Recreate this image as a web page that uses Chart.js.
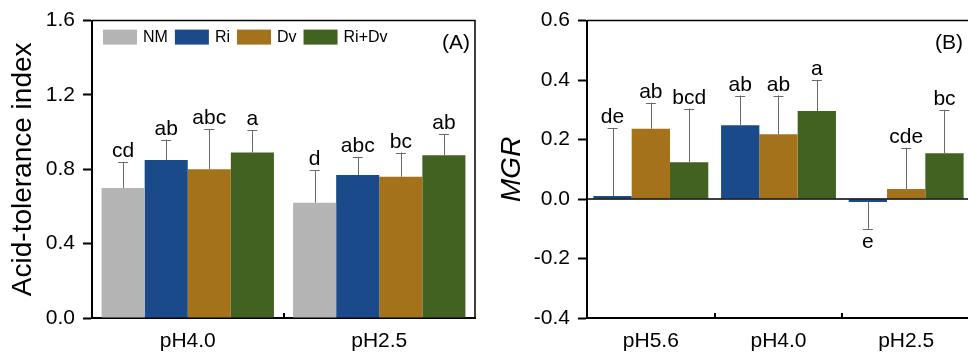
<!DOCTYPE html>
<html>
<head>
<meta charset="utf-8">
<script src="https://cdn.jsdelivr.net/npm/chart.js@4.4.0/dist/chart.umd.min.js"></script>
<style>
  html, body { margin: 0; padding: 0; background: #fff; overflow: hidden; }
  #wrap { position: relative; width: 968px; height: 353px; overflow: hidden; }
  canvas { position: absolute; top: 0; }
  #chartA { left: 0; }
  #chartB { left: 490px; }
</style>
</head>
<body>
<div id="wrap">
  <canvas id="chartA" width="490" height="353"></canvas>
  <canvas id="chartB" width="500" height="353"></canvas>
</div>
<script>
// Panel A - acid-tolerance index
const groupsA = ['pH4.0', 'pH2.5'];
const nmA = [0.70, 0.62];
const riA = [0.85, 0.77];
const dvA = [0.80, 0.76];
const ridvA = [0.89, 0.875];
const nmErrA = [0.14, 0.175];
const riErrA = [0.11, 0.095];
const dvErrA = [0.215, 0.13];
const ridvErrA = [0.12, 0.115];
const nmLetA = ['cd', 'd'];
const riLetA = ['ab', 'abc'];
const dvLetA = ['abc', 'bc'];
const ridvLetA = ['a', 'ab'];
const ticksA = [0, 0.4, 0.8, 1.2, 1.6];

// Panel B - MGR
const groupsB = ['pH5.6', 'pH4.0', 'pH2.5'];
const riB = [0.01, 0.248, -0.01];
const dvB = [0.236, 0.218, 0.034];
const ridvB = [0.124, 0.296, 0.154];
const riErrB = [0.228, 0.10, 0.09];
const dvErrB = [0.088, 0.13, 0.138];
const ridvErrB = [0.18, 0.104, 0.146];
const riLetB = ['de', 'ab', 'e'];
const dvLetB = ['ab', 'ab', 'cde'];
const ridvLetB = ['bcd', 'a', 'bc'];
const ticksB = [-0.4, -0.2, 0, 0.2, 0.4, 0.6];

const colors = {
    NM: '#b4b4b4',
    Ri: '#1b4a8b',
    Dv: '#a3721b',
    RiDv: '#426222'
};

Chart.defaults.font.family = "'Liberation Sans', Arial, sans-serif";
Chart.defaults.color = '#000';

function fmt(v) {
    if (Math.abs(v) < 1e-9) return '0.0';
    return v.toFixed(1);
}

// error bars (cap on the outer side only) + significance letters
const errorBarPlugin = {
    id: 'errorBars',
    afterDatasetsDraw(chart) {
        const ctx = chart.ctx;
        const yScale = chart.scales.y;
        ctx.save();
        chart.data.datasets.forEach((ds, i) => {
            const meta = chart.getDatasetMeta(i);
            meta.data.forEach((bar, j) => {
                const v = ds.data[j];
                const sign = v < 0 ? -1 : 1;
                const yv = yScale.getPixelForValue(v);
                const ye = yScale.getPixelForValue(v + sign * ds.errors[j]);
                ctx.strokeStyle = '#6a6a6a';
                ctx.lineWidth = 1;
                ctx.beginPath();
                ctx.moveTo(Math.round(bar.x) + 0.5, yv);
                ctx.lineTo(Math.round(bar.x) + 0.5, ye);
                ctx.moveTo(bar.x - 5, Math.round(ye) + 0.5);
                ctx.lineTo(bar.x + 5, Math.round(ye) + 0.5);
                ctx.stroke();
                ctx.fillStyle = '#000';
                ctx.font = "21px 'Liberation Sans', Arial, sans-serif";
                ctx.textAlign = 'center';
                ctx.textBaseline = 'alphabetic';
                ctx.fillText(ds.letters[j], bar.x, sign > 0 ? ye - 5 : ye + 19);
            });
        });
        ctx.restore();
    }
};

// top/right frame, zero line, inward ticks between groups, panel tag
const framePlugin = {
    id: 'frame',
    afterDraw(chart, args, opts) {
        const {ctx, chartArea: a, scales} = chart;
        ctx.save();
        ctx.strokeStyle = '#000';
        ctx.lineWidth = 1.5;
        ctx.beginPath();
        ctx.moveTo(a.left, a.top);
        ctx.lineTo(a.right, a.top);
        ctx.lineTo(a.right, a.bottom);
        ctx.stroke();

        if (opts.zeroLine) {
            const y0 = scales.y.getPixelForValue(0);
            ctx.lineWidth = 1.5;
            ctx.beginPath();
            ctx.moveTo(a.left, y0);
            ctx.lineTo(a.right, y0);
            ctx.stroke();
        }

        const x = scales.x;
        ctx.lineWidth = 2;
        ctx.beginPath();
        for (let i = 0; i < chart.data.labels.length - 1; i++) {
            const bx = Math.round((x.getPixelForValue(i) + x.getPixelForValue(i + 1)) / 2);
            ctx.moveTo(bx, a.bottom);
            ctx.lineTo(bx, a.bottom - 5);
        }
        ctx.stroke();

        ctx.fillStyle = '#000';
        ctx.font = "21px 'Liberation Sans', Arial, sans-serif";
        ctx.textAlign = 'right';
        ctx.textBaseline = 'middle';
        ctx.fillText(opts.tag, a.right - (opts.tagInset || 5), a.top + 23);
        ctx.restore();
    }
};

// legend drawn inside the plot area of panel A
const innerLegendPlugin = {
    id: 'innerLegend',
    afterDraw(chart) {
        const ctx = chart.ctx;
        const a = chart.chartArea;
        let x = a.left + 11;
        const y = a.top + 9;
        ctx.save();
        ctx.font = "16px 'Liberation Sans', Arial, sans-serif";
        ctx.textBaseline = 'middle';
        ctx.textAlign = 'left';
        chart.data.datasets.forEach(ds => {
            ctx.fillStyle = ds.backgroundColor;
            ctx.fillRect(x, y, 34, 15);
            x += 40;
            ctx.fillStyle = '#000';
            ctx.fillText(ds.label, x, y + 8);
            x += ctx.measureText(ds.label).width + 7;
        });
        ctx.restore();
    }
};

function barSet(label, data, errors, letters, color) {
    return {
        label: label,
        data: data,
        errors: errors,
        letters: letters,
        backgroundColor: color,
        borderWidth: 0,
        categoryPercentage: 0.9,
        barPercentage: 1.0
    };
}

function yAxis(min, max, ticks, title, italic, titlePad, width) {
    return {
        min: min,
        max: max,
        afterBuildTicks: s => { s.ticks = ticks.map(v => ({value: v})); },
        ticks: {
            color: '#000',
            font: {size: 21},
            padding: 8,
            callback: v => fmt(v)
        },
        grid: {drawOnChartArea: false, tickLength: 9, tickWidth: 2, color: '#000'},
        border: {color: '#000', width: 2},
        title: {
            display: true,
            text: title,
            color: '#000',
            font: {size: 28, style: italic ? 'italic' : 'normal'},
            padding: {top: titlePad, bottom: 0}
        },
        afterFit: s => { s.width = width; }
    };
}

const xAxis = {
    grid: {display: false, drawTicks: false},
    border: {color: '#000', width: 2},
    ticks: {color: '#000', font: {size: 21}, padding: 11},
    afterFit: s => { s.height = 35; }
};

new Chart(document.getElementById('chartA'), {
    type: 'bar',
    data: {
        labels: groupsA,
        datasets: [
            barSet('NM', nmA, nmErrA, nmLetA, colors.NM),
            barSet('Ri', riA, riErrA, riLetA, colors.Ri),
            barSet('Dv', dvA, dvErrA, dvLetA, colors.Dv),
            barSet('Ri+Dv', ridvA, ridvErrA, ridvLetA, colors.RiDv)
        ]
    },
    options: {
        responsive: false,
        animation: false,
        layout: {padding: {top: 20, right: 15, left: 0, bottom: 0}},
        scales: {
            x: xAxis,
            y: yAxis(0, 1.6, ticksA, 'Acid-tolerance index', false, 6, 92)
        },
        plugins: {
            legend: {display: false},
            tooltip: {enabled: false},
            frame: {tag: '(A)', zeroLine: false, tagInset: 5}
        }
    },
    plugins: [errorBarPlugin, framePlugin, innerLegendPlugin]
});

new Chart(document.getElementById('chartB'), {
    type: 'bar',
    data: {
        labels: groupsB,
        datasets: [
            barSet('Ri', riB, riErrB, riLetB, colors.Ri),
            barSet('Dv', dvB, dvErrB, dvLetB, colors.Dv),
            barSet('Ri+Dv', ridvB, ridvErrB, ridvLetB, colors.RiDv)
        ]
    },
    options: {
        responsive: false,
        animation: false,
        layout: {padding: {top: 20, right: 20, left: 0, bottom: 0}},
        scales: {
            x: xAxis,
            y: yAxis(-0.4, 0.6, ticksB, 'MGR', true, 5, 97)
        },
        plugins: {
            legend: {display: false},
            tooltip: {enabled: false},
            frame: {tag: '(B)', zeroLine: true, tagInset: 7}
        }
    },
    plugins: [errorBarPlugin, framePlugin]
});
</script>
</body>
</html>
